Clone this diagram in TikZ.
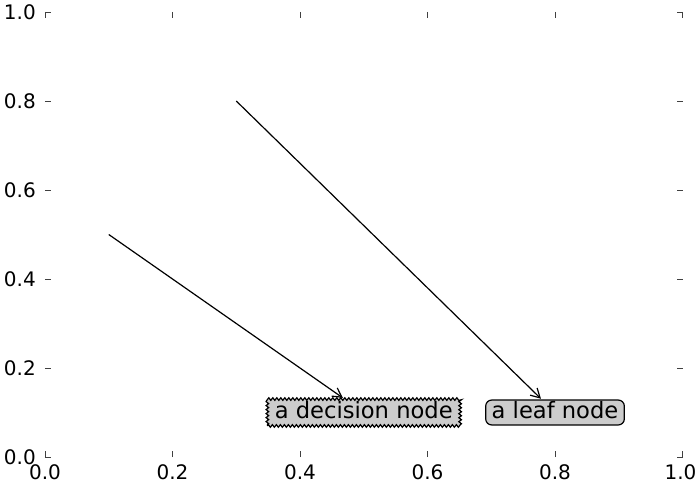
\documentclass[tikz,border=0pt]{standalone}
\usepackage{fontspec}
\setmainfont{DejaVu Sans}
\usetikzlibrary{arrows.meta,decorations.pathmorphing}
\definecolor{boxgray}{gray}{0.8}
\definecolor{tickgray}{gray}{0.25}
\tikzset{
  nodetext/.style={font=\fontsize{22.6}{26}\selectfont, text height=16pt, text depth=4.5pt, fill=boxgray, line width=1.2pt},
  decisionbox/.style={nodetext, draw, inner xsep=7.5pt, inner ysep=3.2pt, decorate, decoration={zigzag, segment length=4pt, amplitude=1.3pt}},
  leafbox/.style={nodetext, draw, rounded corners=6pt, inner xsep=6pt, inner ysep=2.2pt},
  ticklabel/.style={font=\fontsize{20}{24}\selectfont, inner sep=0pt},
  tickmark/.style={line width=0.8pt, draw=tickgray},
  arrowline/.style={line width=1.2pt, -{Straight Barb[length=9pt,width=10pt]}, shorten >=1pt},
}

\begin{document}
\begin{tikzpicture}[x=637.5pt, y=445pt]
            \useasboundingbox (-0.07059,-0.06067) rectangle (1.02745,1.02697);

            \draw[tickmark] (0,0) -- ++(6pt,0);
            \draw[tickmark] (0,0.2) -- ++(6pt,0);
            \draw[tickmark] (0,0.4) -- ++(6pt,0);
            \draw[tickmark] (0,0.6) -- ++(6pt,0);
            \draw[tickmark] (0,0.8) -- ++(6pt,0);
            \draw[tickmark] (0,1) -- ++(6pt,0);
            \draw[tickmark] (1,0) -- ++(-6pt,0);
            \draw[tickmark] (1,0.2) -- ++(-6pt,0);
            \draw[tickmark] (1,0.4) -- ++(-6pt,0);
            \draw[tickmark] (1,0.6) -- ++(-6pt,0);
            \draw[tickmark] (1,0.8) -- ++(-6pt,0);
            \draw[tickmark] (1,1) -- ++(-6pt,0);
            \draw[tickmark] (0,0) -- ++(0,6pt);
            \draw[tickmark] (0.2,0) -- ++(0,6pt);
            \draw[tickmark] (0.4,0) -- ++(0,6pt);
            \draw[tickmark] (0.6,0) -- ++(0,6pt);
            \draw[tickmark] (0.8,0) -- ++(0,6pt);
            \draw[tickmark] (1,0) -- ++(0,6pt);
            \draw[tickmark] (0,1) -- ++(0,-6pt);
            \draw[tickmark] (0.2,1) -- ++(0,-6pt);
            \draw[tickmark] (0.4,1) -- ++(0,-6pt);
            \draw[tickmark] (0.6,1) -- ++(0,-6pt);
            \draw[tickmark] (0.8,1) -- ++(0,-6pt);
            \draw[tickmark] (1,1) -- ++(0,-6pt);

            \node[ticklabel, anchor=east, xshift=-9pt] (ylab0) at (0,0) {0.0};
            \node[ticklabel, anchor=east, xshift=-9pt] (ylab2) at (0,0.2) {0.2};
            \node[ticklabel, anchor=east, xshift=-9pt] (ylab4) at (0,0.4) {0.4};
            \node[ticklabel, anchor=east, xshift=-9pt] (ylab6) at (0,0.6) {0.6};
            \node[ticklabel, anchor=east, xshift=-9pt] (ylab8) at (0,0.8) {0.8};
            \node[ticklabel, anchor=east, xshift=-9pt] (ylab10) at (0,1) {1.0};
            \node[ticklabel, anchor=north, yshift=-7pt] (xlab0) at (0,0) {0.0};
            \node[ticklabel, anchor=north, yshift=-7pt] (xlab2) at (0.2,0) {0.2};
            \node[ticklabel, anchor=north, yshift=-7pt] (xlab4) at (0.4,0) {0.4};
            \node[ticklabel, anchor=north, yshift=-7pt] (xlab6) at (0.6,0) {0.6};
            \node[ticklabel, anchor=north, yshift=-7pt] (xlab8) at (0.8,0) {0.8};
            \node[ticklabel, anchor=north, yshift=-7pt, xshift=-2pt] (xlab10) at (1,0) {1.0};

            \node[decisionbox] (decision) at (0.5,0.1) {a decision node};
            \node[leafbox] (leaf) at (0.8,0.1) {a leaf node};

            \coordinate (decparent) at (0.1,0.5);
            \coordinate (leafparent) at (0.3,0.8);
            \draw[arrowline] (decparent) -- (decision);
            \draw[arrowline] (leafparent) -- (leaf);
        \end{tikzpicture}
\end{document}
